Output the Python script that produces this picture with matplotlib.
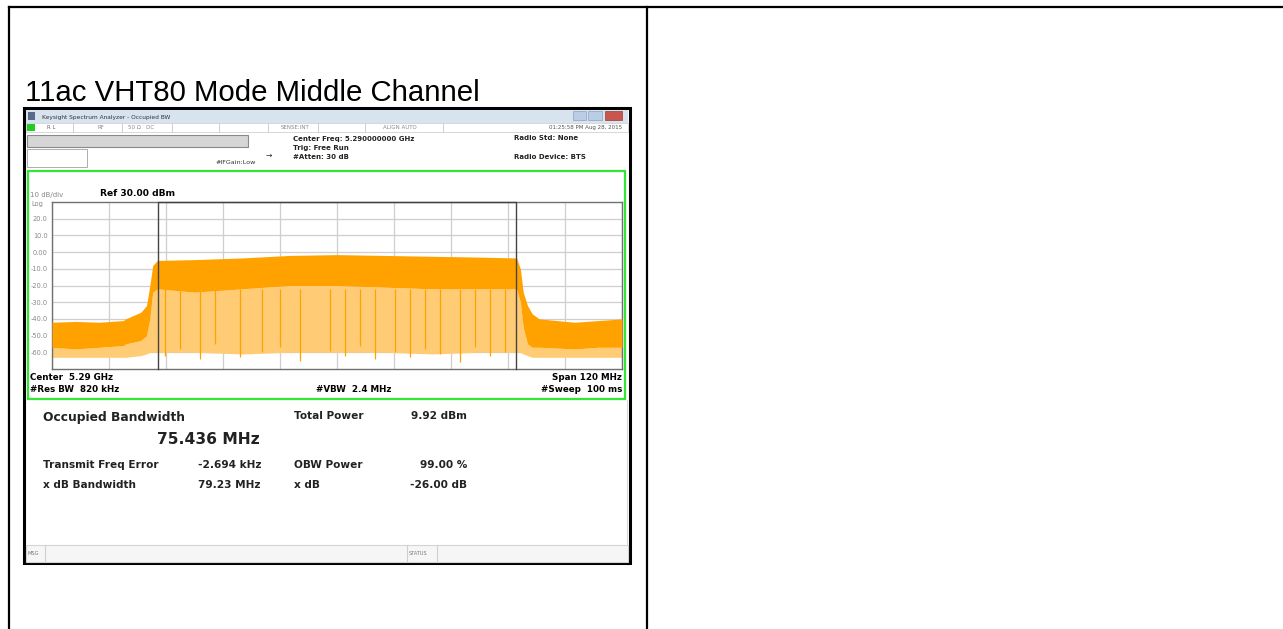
import matplotlib
matplotlib.use("Agg")
import matplotlib.pyplot as plt
from matplotlib.patches import Rectangle

# spectrum trace envelope (MHz, dBm)
freqMHz = [5230, 5235, 5240, 5245, 5245.5, 5248.7, 5249.9, 5250.6, 5251.2, 5252.2,
           5260, 5270, 5280, 5290, 5300, 5310, 5320, 5327.8, 5328.6, 5329.2,
           5330.1, 5331.1, 5332.6, 5340, 5345, 5350]
traceTop = [-42, -41.5, -42, -41, -40, -36, -32, -20, -8, -5,
            -4.5, -3.5, -2, -1.5, -2, -2.5, -3, -3.5, -10, -24,
            -32, -37, -40, -42, -41, -40]
traceSolidLow = [-57, -58, -57, -56, -55, -53, -50, -40, -24, -22,
                 -24, -22, -20, -20, -21, -22, -22, -22, -30, -45,
                 -55, -57, -57, -58, -57, -57]
traceLightLow = [-63, -63, -63, -63, -63, -62, -61, -60, -60, -60,
                 -60, -61, -60, -60, -60, -61, -60, -60, -60, -61,
                 -62, -63, -63, -63, -63, -63]

# deepest in-band dips that show as streaks (MHz, dBm)
dipMHz = [5253.8, 5256.9, 5261.2, 5264.3, 5269.6, 5274.2, 5278.0, 5282.2, 5288.5, 5291.7,
          5294.8, 5298.0, 5302.2, 5305.4, 5308.5, 5311.7, 5315.9, 5319.1, 5322.2, 5325.4]
dipLow = [-62, -58, -64, -55, -63, -60, -57, -65, -59, -62,
          -56, -64, -60, -63, -58, -61, -66, -57, -62, -60]

centerMHz = 5290.0
spanMHz = 120.0
obwMHz = 75.436
refLevel = 30.0
dbPerDiv = 10.0
yTickVals = [20, 10, 0, -10, -20, -30, -40, -50, -60]
yTickLabels = ["20.0", "10.0", "0.00", "-10.0", "-20.0", "-30.0", "-40.0", "-50.0", "-60.0"]

W, H = 1283, 629
fig = plt.figure(figsize=(W / 100, H / 100), dpi=100)
bg = fig.add_axes([0, 0, 1, 1])
bg.set_xlim(0, W)
bg.set_ylim(H, 0)
bg.axis("off")


def rect(x0, y0, x1, y1, fc="none", ec="none", lw=0.0, z=1):
    bg.add_patch(Rectangle((x0, y0), x1 - x0, y1 - y0, facecolor=fc, edgecolor=ec, linewidth=lw, zorder=z))


def txt(x, y, s, size, bold=False, color="black", ha="left", family="DejaVu Sans"):
    bg.text(x, y, s, fontsize=size, fontweight="bold" if bold else "normal", color=color,
            ha=ha, va="center", family=family, zorder=10)


# document table lines
bg.plot([9, W], [7, 7], color="black", lw=1.6)
bg.plot([9, 9], [7, H], color="black", lw=1.6)
bg.plot([647, 647], [7, H], color="black", lw=1.6)
txt(25, 93, "11ac VHT80 Mode Middle Channel", 21.2, family="Liberation Sans")

# analyzer window
rect(24, 108, 630, 563, fc="white", ec="black", lw=2.2, z=2)
rect(26, 110, 628, 123, fc="#d8e3f0", z=3)
rect(28, 112, 35, 120, fc="#5a6a8a", z=4)
txt(42, 117, "Keysight Spectrum Analyzer - Occupied BW", 4.2, color="#333")
rect(573, 111, 586, 120, fc="#b9cde6", ec="#8fa3bd", lw=0.5, z=4)
rect(588, 111, 602, 120, fc="#b9cde6", ec="#8fa3bd", lw=0.5, z=4)
rect(605, 111, 622, 120, fc="#c9554c", ec="#9a3b35", lw=0.5, z=4)

# status row
rect(26, 123, 628, 132, fc="white", ec="#c8c8c8", lw=0.5, z=3)
rect(27, 124, 35, 131, fc="#22cc22", z=4)
for sx in [73, 122, 172, 219, 268, 318, 365, 443]:
    bg.plot([sx, sx], [123, 132], color="#c8c8c8", lw=0.6, zorder=4)
txt(47, 127.5, "R L", 4, color="#666")
txt(97, 127.5, "RF", 4, color="#888")
txt(128, 127.5, "50 \u03a9   DC", 4, color="#888")
txt(281, 127.5, "SENSE:INT", 4, color="#888")
txt(383, 127.5, "ALIGN AUTO", 4, color="#888")
txt(622, 127.5, "01:25:58 PM Aug 28, 2015", 4, color="#555", ha="right")

# settings area
rect(27, 135, 248, 147, fc="#d6d6d6", ec="#8a8a8a", lw=0.8, z=3)
rect(27, 149, 87, 167, fc="white", ec="#a0a0a0", lw=0.6, z=3)
txt(215, 162, "#IFGain:Low", 4.6, color="#333")
txt(266, 155, "\u2192", 5.5, color="#333")
txt(293, 138.5, "Center Freq: 5.290000000 GHz", 5, bold=True, color="#222")
txt(293, 148, "Trig: Free Run", 5, bold=True, color="#222")
txt(293, 157, "#Atten: 30 dB", 5, bold=True, color="#222")
txt(514, 138.5, "Radio Std: None", 5, bold=True, color="#222")
txt(514, 157, "Radio Device: BTS", 5, bold=True, color="#222")

# green trace window frame
rect(28, 171, 625, 399, fc="white", ec="#33e633", lw=1.6, z=3)
txt(30, 195, "10 dB/div", 5, color="#888")
txt(100, 194, "Ref 30.00 dBm", 6.6, bold=True)
txt(31, 204, "Log", 4.8, color="#888")
txt(30, 378, "Center  5.29 GHz", 6.3, bold=True)
txt(30, 390, "#Res BW  820 kHz", 6.3, bold=True)
txt(316, 390, "#VBW  2.4 MHz", 6.3, bold=True)
txt(622, 378, "Span 120 MHz", 6.3, bold=True, ha="right")
txt(622, 390, "#Sweep  100 ms", 6.3, bold=True, ha="right")

# results panel
bg.plot([627, 627], [400, 545], color="#d8d8d8", lw=0.8, zorder=3)
txt(43, 418, "Occupied Bandwidth", 8.8, bold=True, color="#222")
txt(260, 439, "75.436 MHz", 11.2, bold=True, color="#222", ha="right")
txt(294, 416, "Total Power", 7.6, bold=True, color="#222")
txt(467, 416, "9.92 dBm", 7.6, bold=True, color="#222", ha="right")
txt(43, 464.5, "Transmit Freq Error", 7.6, bold=True, color="#222")
txt(261, 464.5, "-2.694 kHz", 7.6, bold=True, color="#222", ha="right")
txt(294, 464.5, "OBW Power", 7.6, bold=True, color="#222")
txt(467, 464.5, "99.00 %", 7.6, bold=True, color="#222", ha="right")
txt(43, 485, "x dB Bandwidth", 7.6, bold=True, color="#222")
txt(261, 485, "79.23 MHz", 7.6, bold=True, color="#222", ha="right")
txt(294, 485, "x dB", 7.6, bold=True, color="#222")
txt(467, 485, "-26.00 dB", 7.6, bold=True, color="#222", ha="right")

# bottom status bar
rect(26, 545, 628, 562, fc="#f6f6f6", ec="#d4d4d4", lw=0.8, z=3)
for sx in [45, 407, 437]:
    bg.plot([sx, sx], [545, 562], color="#d0d0d0", lw=0.8, zorder=4)
txt(27, 553.5, "MSG", 3.6, color="#777")
txt(409, 553.5, "STATUS", 3.6, color="#777")

# spectrum graticule
ax = fig.add_axes([52 / W, 1 - 369 / H, 570 / W, 167 / H])
ax.set_zorder(5)
lo, hi = centerMHz - spanMHz / 2, centerMHz + spanMHz / 2
ax.set_xlim(lo, hi)
ax.set_ylim(refLevel - 10 * dbPerDiv, refLevel)
ax.set_xticks([lo + i * spanMHz / 10 for i in range(11)])
ax.set_xticklabels([])
ax.set_yticks(yTickVals)
ax.set_yticklabels(yTickLabels)
ax.tick_params(length=0, labelsize=4.8, labelcolor="#888", pad=3)
ax.grid(True, color="#cfcfcf", lw=0.9)
ax.set_axisbelow(True)
for sp in ax.spines.values():
    sp.set_color("#707070")
    sp.set_linewidth(1.0)

ax.fill_between(freqMHz, traceLightLow, traceSolidLow, color="#ffcc75", lw=0, zorder=2)
ax.vlines(dipMHz, dipLow, -22, color="#ffa200", lw=0.9, zorder=2.5)
ax.fill_between(freqMHz, traceSolidLow, traceTop, color="#ffa200", lw=0, zorder=3)

# OBW markers
mLeft = centerMHz - obwMHz / 2
mRight = centerMHz + obwMHz / 2
ax.plot([mLeft, mLeft, mRight, mRight], [refLevel - 100, refLevel, refLevel, refLevel - 100],
        color="#444", lw=1.0, zorder=4, clip_on=False)

fig.savefig("out.png", dpi=100)
